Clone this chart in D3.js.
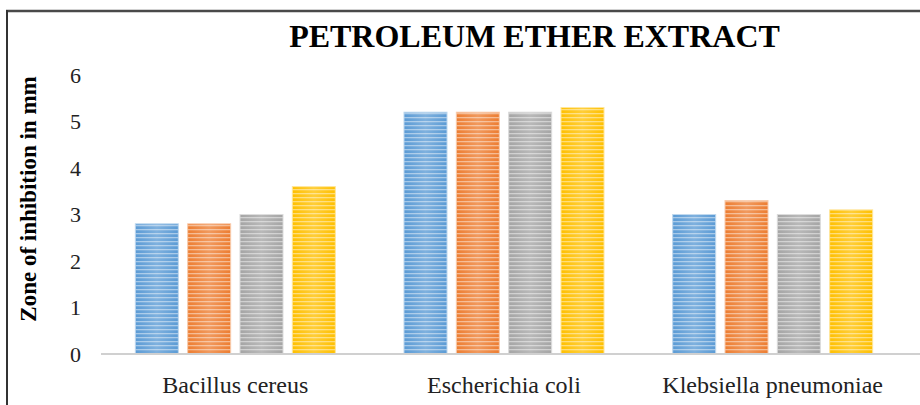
<!DOCTYPE html>
<html>
<head>
<meta charset="utf-8">
<script src="https://cdn.jsdelivr.net/npm/d3@7"></script>
<style>
  html, body { margin: 0; padding: 0; background: #fff; }
  svg { display: block; }
</style>
</head>
<body>
<svg id="chart" width="920" height="405"></svg>
<script>
// Zone of inhibition (mm) for the petroleum ether extract, four replicates per organism
const categories = ["Bacillus cereus", "Escherichia coli", "Klebsiella pneumoniae"];
const seriesNames = ["Series 1", "Series 2", "Series 3", "Series 4"];
const series1 = [2.8, 5.2, 3.0];
const series2 = [2.8, 5.2, 3.3];
const series3 = [3.0, 5.2, 3.0];
const series4 = [3.6, 5.3, 3.1];
const yTicks = [0, 1, 2, 3, 4, 5, 6];
const colors = ["#5B9BD5", "#ED7D31", "#A5A5A5", "#FFC000"];

const seriesValues = [series1, series2, series3, series4];
const rows = categories.map((c, i) => ({
  category: c,
  values: seriesNames.map((s, j) => ({ key: s, value: seriesValues[j][i], idx: j }))
}));

const svg = d3.select("#chart");
const serif = "'Liberation Serif', 'Times New Roman', serif";

// frame lines
svg.append("line").attr("x1", 6).attr("x2", 920).attr("y1", 11).attr("y2", 11)
  .attr("stroke", "#4a4a4a").attr("stroke-width", 2.5);
svg.append("line").attr("x1", 7).attr("x2", 7).attr("y1", 10).attr("y2", 405)
  .attr("stroke", "#333").attr("stroke-width", 2);

const x0 = d3.scaleBand().domain(categories).range([101, 907]).paddingInner(0).paddingOuter(0);
const x1 = d3.scaleBand().domain(seriesNames).range([0, x0.bandwidth()]).paddingInner(0.178).paddingOuter(0.656);
const y = d3.scaleLinear().domain([0, 6]).range([354, 75]);

// striped fills with a soft horizontal sheen
const defs = svg.append("defs");
colors.forEach((c, i) => {
  const lighter = d3.interpolateRgb(c, "#ffffff")(0.45);
  const pat = defs.append("pattern").attr("id", "stripe" + i)
    .attr("patternUnits", "userSpaceOnUse").attr("width", 8).attr("height", 4);
  pat.append("rect").attr("width", 8).attr("height", 4).attr("fill", c);
  pat.append("rect").attr("y", 1).attr("width", 8).attr("height", 1.3).attr("fill", lighter);
  const g = defs.append("linearGradient").attr("id", "sheen" + i)
    .attr("x1", "0").attr("x2", "1").attr("y1", "0").attr("y2", "0");
  g.append("stop").attr("offset", "0").attr("stop-color", "#fff").attr("stop-opacity", 0.0);
  g.append("stop").attr("offset", "0.5").attr("stop-color", "#fff").attr("stop-opacity", 0.22);
  g.append("stop").attr("offset", "1").attr("stop-color", "#fff").attr("stop-opacity", 0.0);
});

// y tick labels
svg.append("g").selectAll("text").data(yTicks).join("text")
  .attr("x", 81).attr("y", d => y(d)).attr("dy", "0.35em")
  .attr("text-anchor", "end")
  .attr("font-family", serif).attr("font-size", 22).attr("fill", "#222")
  .text(d => d);

// bars
const groups = svg.append("g").selectAll("g").data(rows).join("g")
  .attr("transform", d => `translate(${x0(d.category)},0)`);
groups.selectAll("rect.bar").data(d => d.values).join("rect")
  .attr("class", "bar")
  .attr("x", d => x1(d.key)).attr("width", x1.bandwidth())
  .attr("y", d => y(d.value)).attr("height", d => y(0) - y(d.value))
  .attr("fill", d => `url(#stripe${d.idx})`)
  .attr("stroke", d => d3.interpolateRgb(colors[d.idx], "#fff")(0.6))
  .attr("stroke-width", 1);
groups.selectAll("rect.sheen").data(d => d.values).join("rect")
  .attr("class", "sheen")
  .attr("x", d => x1(d.key)).attr("width", x1.bandwidth())
  .attr("y", d => y(d.value)).attr("height", d => y(0) - y(d.value))
  .attr("fill", d => `url(#sheen${d.idx})`);

// baseline
svg.append("line").attr("x1", 101).attr("x2", 920).attr("y1", y(0)).attr("y2", y(0))
  .attr("stroke", "#d0d0d0").attr("stroke-width", 2);

// category labels
svg.append("g").selectAll("text").data(categories).join("text")
  .attr("x", d => x0(d) + x0.bandwidth() / 2).attr("y", 393)
  .attr("text-anchor", "middle")
  .attr("font-family", serif).attr("font-size", 24).attr("fill", "#222")
  .text(d => d);

// title
svg.append("text").attr("x", 534.5).attr("y", 47).attr("text-anchor", "middle")
  .attr("font-family", serif).attr("font-size", 32).attr("font-weight", "bold")
  .attr("fill", "#000").text("PETROLEUM ETHER EXTRACT");

// y axis title
svg.append("text").attr("transform", "translate(36,199) rotate(-90)")
  .attr("text-anchor", "middle")
  .attr("font-family", serif).attr("font-size", 23).attr("font-weight", "bold")
  .attr("fill", "#000").text("Zone of inhibition in mm");
</script>
</body>
</html>
